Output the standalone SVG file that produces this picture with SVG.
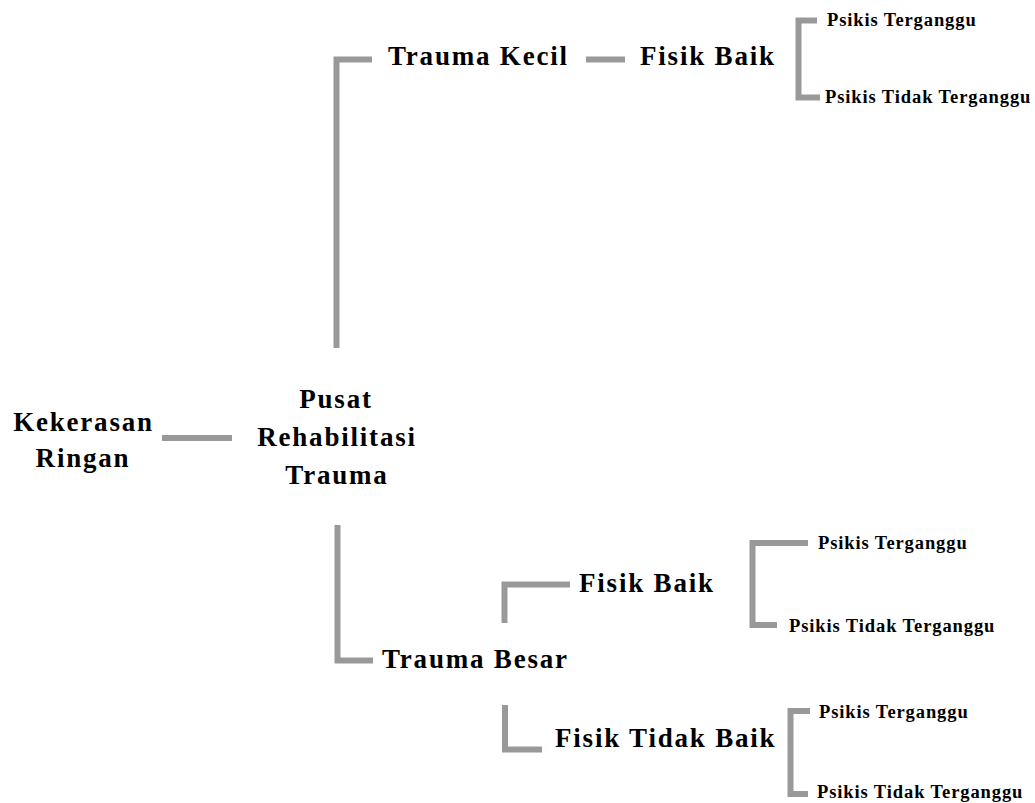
<svg xmlns="http://www.w3.org/2000/svg" width="1035" height="803" viewBox="0 0 1035 803">
<style>
.c{fill:none;stroke:#999999;stroke-width:6;stroke-linecap:butt;stroke-linejoin:miter}
.big{font-family:"Liberation Serif","Times New Roman",serif;font-weight:bold;font-size:27px;letter-spacing:1.8px;fill:#000}
.sm{font-family:"Liberation Serif","Times New Roman",serif;font-weight:bold;font-size:18.5px;letter-spacing:0.9px;fill:#000}
.mid{text-anchor:middle}
</style>
<rect width="1035" height="803" fill="#fff"/>
<g id="connectors">
<path class="c" d="M162 438H232"/>
<path class="c" d="M372 59.5H336.5V348"/>
<path class="c" d="M586 59.5H625"/>
<path class="c" d="M817 20.5H798.5V97.5H820"/>
<path class="c" d="M337.5 525V660.5H373"/>
<path class="c" d="M504.5 623V584.5H570"/>
<path class="c" d="M505 705V749.5H542"/>
<path class="c" d="M808 543H752.5V625H777"/>
<path class="c" d="M810 711H790.5V794H808"/>
</g>
<g id="kekerasan"><text class="big mid" x="83.5" y="431">Kekerasan</text><text class="big mid" x="83" y="467">Ringan</text></g>
<g id="pusat"><text class="big mid" x="336" y="408">Pusat</text><text class="big mid" x="337" y="446">Rehabilitasi</text><text class="big mid" x="337" y="484">Trauma</text></g>
<g id="trauma-kecil"><text class="big" x="388" y="65">Trauma Kecil</text></g>
<g id="fisik-baik-1"><text class="big" x="640" y="65">Fisik Baik</text></g>
<g id="psikis-1a"><text class="sm" x="827" y="26">Psikis Terganggu</text></g>
<g id="psikis-1b"><text class="sm" x="825" y="103">Psikis Tidak Terganggu</text></g>
<g id="trauma-besar"><text class="big" x="382" y="668">Trauma Besar</text></g>
<g id="fisik-baik-2"><text class="big" x="579" y="592">Fisik Baik</text></g>
<g id="fisik-tidak-baik"><text class="big" x="555" y="747">Fisik Tidak Baik</text></g>
<g id="psikis-2a"><text class="sm" x="818" y="549">Psikis Terganggu</text></g>
<g id="psikis-2b"><text class="sm" x="789" y="632">Psikis Tidak Terganggu</text></g>
<g id="psikis-3a"><text class="sm" x="819" y="718">Psikis Terganggu</text></g>
<g id="psikis-3b"><text class="sm" x="817" y="798">Psikis Tidak Terganggu</text></g>
</svg>
